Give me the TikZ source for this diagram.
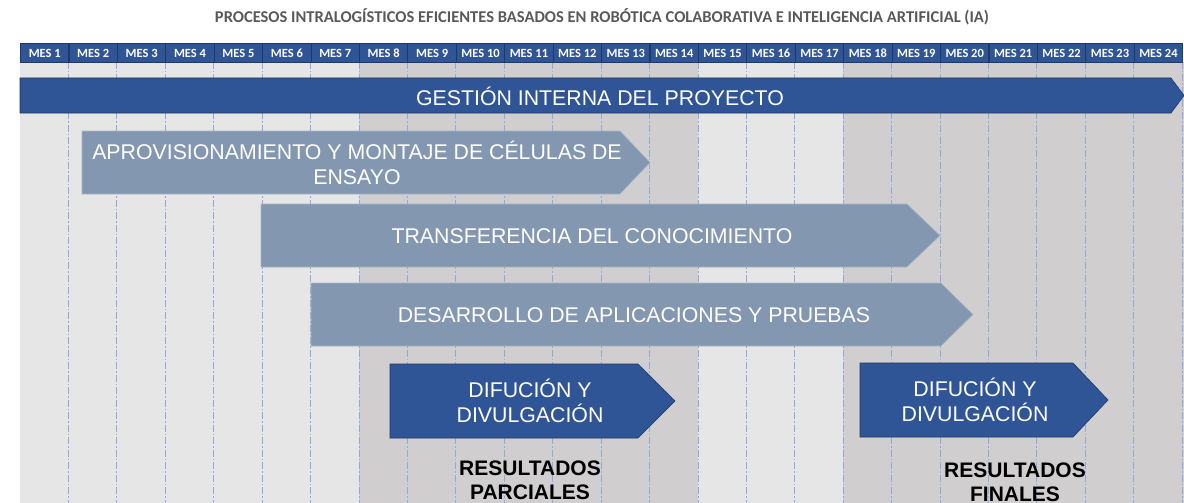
\documentclass[tikz,border=0pt]{standalone}
\usepackage{fontspec}
\setmainfont{Liberation Sans}
\newfontfamily\calfont{Carlito}
\definecolor{lightbg}{HTML}{E7E6E6}
\definecolor{darkbg}{HTML}{D0CECE}
\definecolor{navy}{HTML}{2F5597}
\definecolor{navyline}{HTML}{1F3864}
\definecolor{slate}{HTML}{8497B0}
\definecolor{slateline}{HTML}{A9B6C8}
\definecolor{gridblue}{HTML}{8FAADC}
\definecolor{titlegray}{HTML}{595959}
\newcommand\pbar[6]{\path[#6] (#1,#4) -- (#2,#4) -- (#3,{(#4+#5)/2}) -- (#2,#5) -- (#1,#5) -- cycle;}
\begin{document}
\begin{tikzpicture}[x=1pt,y=-1pt,
  gridline/.style={gridblue, line width=0.7pt, dash pattern=on 7pt off 2pt on 1.5pt off 2pt},
  mes/.style={fill=navy, draw=navyline, line width=1.1pt, text=white, inner sep=0pt,
    font=\calfont\bfseries\fontsize{12.5}{14}\selectfont, minimum height=19pt, minimum width=48.42pt, anchor=north west},
  darkbar/.style={fill=navy, draw=navyline, line width=0.6pt},
  lightbar/.style={fill=slate, draw=slateline, line width=0.6pt},
  bartext/.style={text=white, align=center, inner sep=0pt, font=\fontsize{21.3}{25}\selectfont},
  restext/.style={text=black, align=center, inner sep=0pt, font=\bfseries\fontsize{21}{24}\selectfont},
  titletext/.style={text=titlegray, inner sep=0pt, font=\calfont\bfseries\fontsize{16.5}{18}\selectfont}]
\useasboundingbox (0,0) rectangle (1184,503);
\def\cw{48.42}
% background bands
\fill[lightbg] (20,62) rectangle ({20+7*\cw},503);
\fill[darkbg] ({20+7*\cw},62) rectangle ({20+14*\cw},503);
\fill[lightbg] ({20+14*\cw},62) rectangle ({20+17*\cw},503);
\fill[darkbg] ({20+17*\cw},62) rectangle (1184,503);
% grid lines
\foreach \k in {1,...,24} \draw[gridline] ({20+\k*\cw},62) -- ({20+\k*\cw},503);
% title
\node[titletext] (title) at (602,17) {PROCESOS INTRALOGÍSTICOS EFICIENTES BASADOS EN ROBÓTICA COLABORATIVA E INTELIGENCIA ARTIFICIAL (IA)};
% header
\foreach \k in {1,...,24} \node[mes] (m\k) at ({20+(\k-1)*\cw},43) {MES \k};
% bars
\pbar{20}{1171}{1184}{78}{113}{darkbar}
\node[bartext] (gest) at (600,96) {GESTIÓN INTERNA DEL PROYECTO};
\pbar{82}{620}{650}{131}{194}{lightbar}
\node[bartext] (aprov) at (357,163) {APROVISIONAMIENTO Y MONTAJE DE CÉLULAS DE\\ENSAYO};
\pbar{261}{907}{940}{204}{267}{lightbar}
\node[bartext] (transf) at (592,236) {TRANSFERENCIA DEL CONOCIMIENTO};
\pbar{311}{941}{973}{283}{346}{lightbar}
\node[bartext] (desar) at (634,315) {DESARROLLO DE APLICACIONES Y PRUEBAS};
\pbar{390}{638}{675}{364}{438}{darkbar}
\node[bartext] (dif1) at (530,401) {DIFUCIÓN Y\\DIVULGACIÓN};
\pbar{860}{1073}{1108}{363}{437}{darkbar}
\node[bartext] (dif2) at (975,400) {DIFUCIÓN Y\\DIVULGACIÓN};
\node[restext] (res1) at (530,480) {RESULTADOS\\PARCIALES};
\node[restext] (res2) at (1015,482) {RESULTADOS\\FINALES};
\end{tikzpicture}
\end{document}
